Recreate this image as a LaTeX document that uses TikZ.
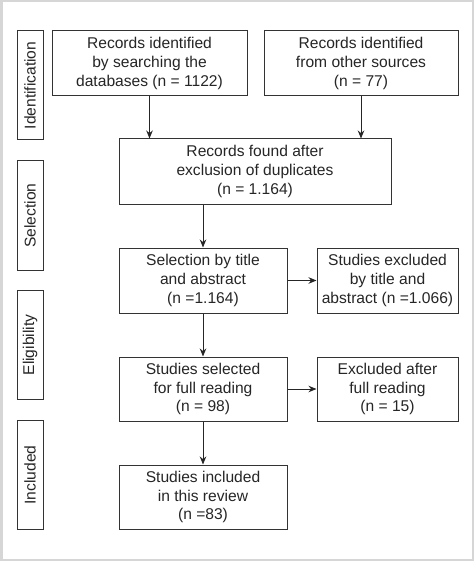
\documentclass[tikz,border=0pt]{standalone}
\usepackage{fontspec}
\setmainfont{Liberation Sans}
\usetikzlibrary{arrows.meta}
\begin{document}
\begin{tikzpicture}[x=1pt,y=1pt,
  box/.style={draw=black!80, line width=1pt, align=center, inner sep=0pt,
    font=\fontsize{15.6}{18.6}\selectfont, text=black!85},
  side/.style={draw=black!80, line width=1pt, inner sep=0pt,
    minimum width=109pt, minimum height=26pt, rotate=90,
    font=\fontsize{15.6}{18.6}\selectfont, text=black!85},
  arr/.style={draw=black!85, line width=1pt, -{Stealth[length=8pt,width=6.5pt]}}]
\useasboundingbox (0,0) rectangle (474,-561);
\fill[white] (0,0) rectangle (474,-561);
\draw[black!16, line width=2.5pt] (1.25,-0.5) rectangle (472.75,-559.75);
% side labels
\node[side] (L1) at (30,-85.5) {Identification};
\node[side] (L2) at (30,-215.5) {Selection};
\node[side] (L3) at (30,-345) {Eligibility};
\node[side] (L4) at (30,-475) {Included};
% boxes
\node[box, minimum width=195pt, minimum height=65pt] (A) at (149.5,-63.5)
  {Records identified\\by searching the\\databases (n = 1122)};
\node[box, minimum width=194pt, minimum height=65pt] (B) at (361,-63.5)
  {Records identified\\from other sources\\(n = 77)};
\node[box, minimum width=272pt, minimum height=65pt] (C) at (255,-171.5)
  {Records found after\\exclusion of duplicates\\(n = 1.164)};
\node[box, minimum width=168pt, minimum height=65pt] (D) at (203,-280.5)
  {Selection by title\\and abstract\\(n =1.164)};
\node[box, minimum width=141pt, minimum height=65pt] (E) at (387.5,-280.5)
  {Studies excluded\\by title and\\abstract (n =1.066)};
\node[box, minimum width=168pt, minimum height=64pt] (F) at (203,-389)
  {Studies selected\\for full reading\\(n = 98)};
\node[box, minimum width=141pt, minimum height=64pt] (G) at (387.5,-389)
  {Excluded after\\full reading\\(n = 15)};
\node[box, minimum width=168pt, minimum height=64pt] (H) at (203,-497)
  {Studies included\\in this review\\(n =83)};
% connectors
\draw[arr] (A.south) -- (A.south |- C.north);
\draw[arr] (B.south) -- (B.south |- C.north);
\draw[arr] (D.north |- C.south) -- (D.north);
\draw[arr] (D.east) -- (E.west);
\draw[arr] (D.south) -- (F.north);
\draw[arr] (F.east) -- (G.west);
\draw[arr] (F.south) -- (H.north);
\end{tikzpicture}
\end{document}
